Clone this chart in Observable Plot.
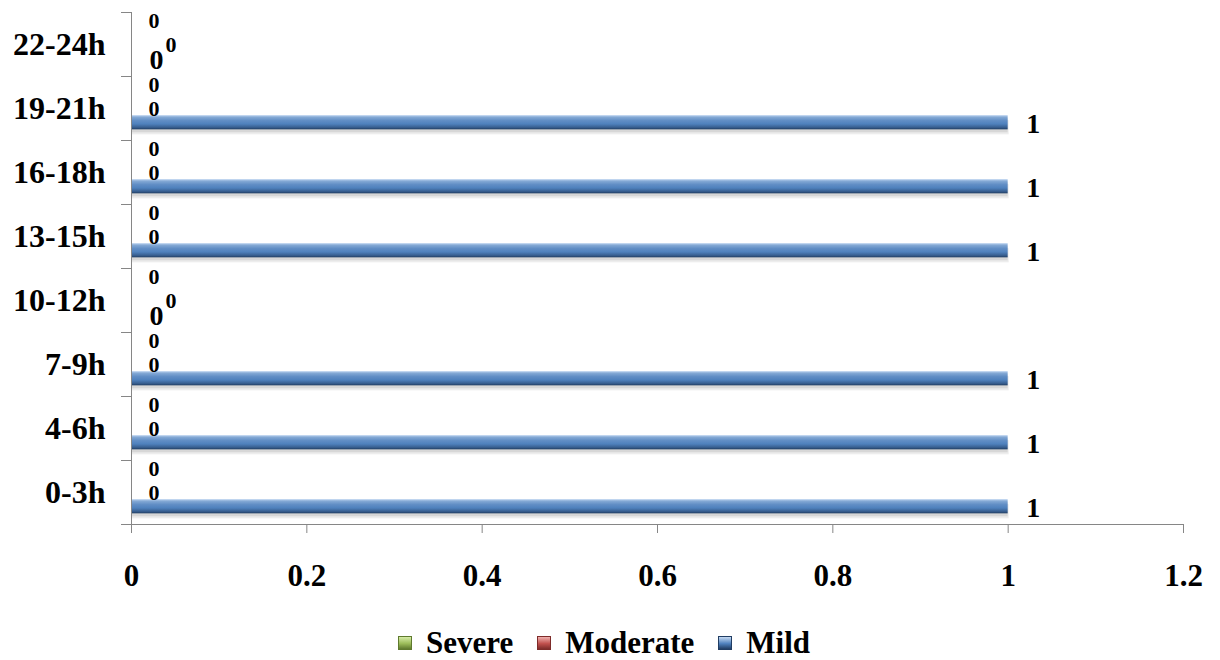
<!DOCTYPE html>
<html><head><meta charset="utf-8">
<script src="https://cdn.jsdelivr.net/npm/d3@7"></script>
<script src="https://cdn.jsdelivr.net/npm/@observablehq/plot@0.6"></script>
<style>
  body { margin: 0; background: #fff; font-family: "Liberation Serif", "Times New Roman", serif; }
  #chart svg text { fill: #000; }
  #legend { display: flex; justify-content: center; align-items: center; height: 50px; padding: 16px 12px 0 0; box-sizing: border-box; font-weight: bold; font-size: 31px; color: #000; }
  #legend .item { display: flex; align-items: center; margin: 0 12px; }
  #legend .sw { width: 14px; height: 14px; margin-right: 14px; box-sizing: border-box; }
</style></head>
<body>
<div id="chart"></div>
<div id="legend"></div>
<script>
// ---- data (bottom to top, as in the chart) ----
const hours = ["0-3h", "4-6h", "7-9h", "10-12h", "13-15h", "16-18h", "19-21h", "22-24h"];
const seriesNames = ["Mild", "Moderate", "Severe"];        // bottom to top inside each hour
const legendOrder = ["Severe", "Moderate", "Mild"];
const severe   = [0, 0, 0, 0, 0, 0, 0, 0];
const moderate = [0, 0, 0, 0, 0, 0, 0, 0];
const mild     = [1, 1, 1, 0, 1, 1, 1, 0];
const xTicks = [0, 0.2, 0.4, 0.6, 0.8, 1, 1.2];
const xDomain = [0, 1.2];

const seriesValues = {Mild: mild, Moderate: moderate, Severe: severe};
const seriesColors = {
  Severe:   ["#d6eca6", "#9bbb59", "#5f7a2e"],
  Moderate: ["#f0b0ae", "#c0504d", "#7e2c2a"],
  Mild:     ["#c5daf3", "#4f81bd", "#213d63"]
};

// Excel clustered bar geometry: gap width 150%
const gapWidth = 1.5;
const slot = 1 / (seriesNames.length + gapWidth);

const rows = [];
hours.forEach((h, i) => {
  seriesNames.forEach((s, k) => {
    const y1 = i + slot * gapWidth / 2 + k * slot;
    rows.push({hour: h, series: s, value: seriesValues[s][i], mildZero: mild[i] === 0,
               y1, y2: y1 + slot, yc: y1 + slot / 2});
  });
});

const axisColor = "#868686";

function defs() {
  const d = d3.create("svg:defs");
  for (const s of seriesNames) {
    const [light, mid, dark] = seriesColors[s];
    const g = d.append("linearGradient").attr("id", "grad" + s)
      .attr("x1", 0).attr("y1", 0).attr("x2", 0).attr("y2", 1);
    g.append("stop").attr("offset", "0%").attr("stop-color", light);
    g.append("stop").attr("offset", "14%").attr("stop-color", d3.interpolateRgb(light, mid)(0.55));
    g.append("stop").attr("offset", "38%").attr("stop-color", d3.interpolateRgb(light, mid)(0.85));
    g.append("stop").attr("offset", "62%").attr("stop-color", mid);
    g.append("stop").attr("offset", "86%").attr("stop-color", d3.interpolateRgb(mid, dark)(0.5));
    g.append("stop").attr("offset", "100%").attr("stop-color", dark);
  }
  return d.node();
}

const marks = [defs];
for (const s of seriesNames) {
  const data = rows.filter(d => d.series === s);
  marks.push(
    Plot.rectX(data, {x1: 0, x2: "value", y1: "y1", y2: "y2", fill: "#000", fillOpacity: 0.07, dy: 5, dx: 1}),
    Plot.rectX(data, {x1: 0, x2: "value", y1: "y1", y2: "y2", fill: "#000", fillOpacity: 0.09, dy: 3}),
    Plot.rectX(data, {x1: 0, x2: "value", y1: "y1", y2: "y2", fill: `url(#grad${s})`})
  );
}
const lbl = {textAnchor: "start", fontWeight: "bold", fill: "#000"};
marks.push(
  Plot.ruleX([0], {stroke: axisColor}),
  Plot.ruleY([0], {stroke: axisColor}),
  // value labels
  Plot.text(rows.filter(d => d.series === "Mild"), {...lbl, x: "value", y: "yc", text: d => String(d.value), dx: 18, dy: 1, fontSize: 28}),
  Plot.text(rows.filter(d => d.series === "Moderate" && !d.mildZero), {...lbl, x: "value", y: "yc", text: d => String(d.value), dx: 17, dy: 0, fontSize: 22}),
  Plot.text(rows.filter(d => d.series === "Moderate" && d.mildZero), {...lbl, x: "value", y: "yc", text: d => String(d.value), dx: 34, dy: 0, fontSize: 22}),
  Plot.text(rows.filter(d => d.series === "Severe"), {...lbl, x: "value", y: "yc", text: d => String(d.value), dx: 17, dy: -9, fontSize: 22}),
  // hour category labels
  Plot.text(hours, {x: () => 0, y: (d, i) => i + 0.5, text: d => d, textAnchor: "end", dx: -26, fontSize: 32, fontWeight: "bold", fill: "#000"})
);

const chart = Plot.plot({
  width: 1220,
  height: 610,
  marginLeft: 131,
  marginRight: 37,
  marginTop: 12,
  marginBottom: 86,
  style: {fontFamily: "'Liberation Serif', 'Times New Roman', serif", fontSize: "31px", fontWeight: "bold", color: axisColor, background: "#fff", overflow: "visible"},
  x: {domain: xDomain, ticks: xTicks, tickFormat: d => String(d), tickSize: 9, tickPadding: 30, label: null},
  y: {domain: [0, hours.length], ticks: d3.range(hours.length + 1), tickFormat: () => "", tickSize: 10, label: null},
  marks
});
document.getElementById("chart").appendChild(chart);

// legend
const legend = d3.select("#legend");
for (const s of legendOrder) {
  const [light, mid, dark] = seriesColors[s];
  const it = legend.append("div").attr("class", "item");
  it.append("div").attr("class", "sw")
    .style("background", `linear-gradient(180deg, ${light}, ${mid} 55%, ${dark})`)
    .style("border", `1px solid ${dark}`);
  it.append("span").text(s);
}
</script>
</body></html>
